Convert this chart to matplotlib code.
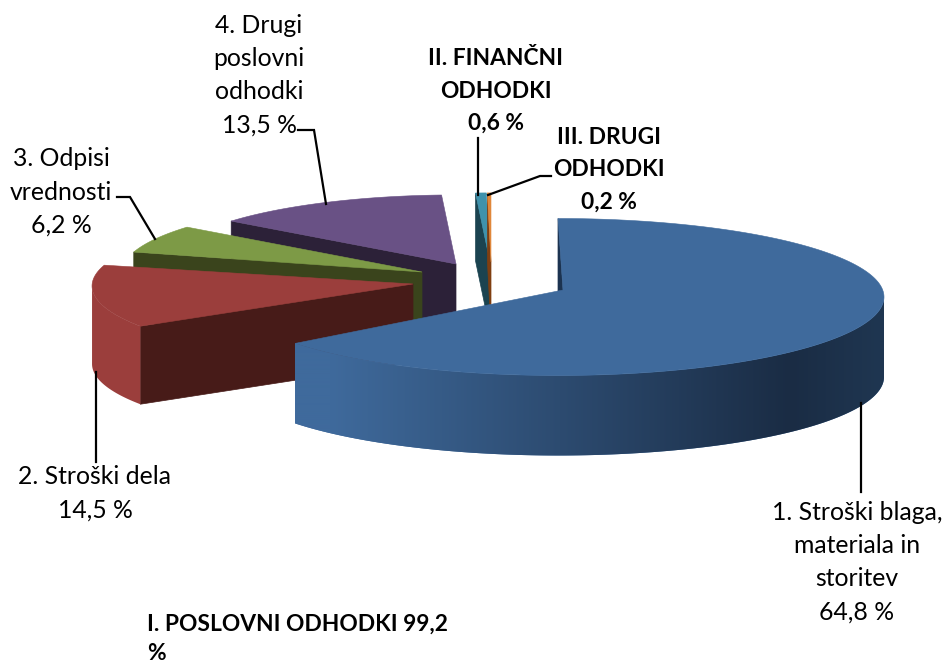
import numpy as np
import matplotlib
matplotlib.use("Agg")
import matplotlib.pyplot as plt
from matplotlib.colors import to_rgb
from matplotlib.patches import Polygon

plt.rcParams['font.family'] = ['Lato', 'DejaVu Sans']

# shares in %, clockwise from 12 o'clock
names = ["1. Stroški blaga,\nmateriala in\nstoritev", "2. Stroški dela", "3. Odpisi\nvrednosti",
         "4. Drugi\nposlovni\nodhodki", "II. FINANČNI\nODHODKI", "III. DRUGI\nODHODKI"]
shares = [64.8, 14.5, 6.2, 13.5, 0.6, 0.2]
total_name = "I. POSLOVNI ODHODKI 99,2\n%"

# look of each slice
top_colors = ["#3f6a9c", "#9b3e3c", "#7d9a46", "#695185", "#3f92ac", "#e0873a"]
wall_colors = ["#1c3350", "#471b18", "#3a441c", "#2c2138", "#1b4350", "#7f3e10"]
apex_x = [563, 413, 422, 456, 490, 491]
apex_y = [290, 284, 272, 264, 262, 262]
center_x = [558, 405, 422, 456, 490, 491]
center_y = [297, 286, 272, 264, 262, 262]
scale = [1.0, 0.96, 0.92, 0.88, 0.88, 0.88]
start_shift = [0, 4, 0, 0, 0, 0]
depth = [80, 78, 70, 70, 68, 68]
RX, RY = 326, 78.5

fig = plt.figure(figsize=(9.44, 6.63), dpi=100)
ax = fig.add_axes([0, 0, 1, 1])


def rim_xy(i, deg):
    a = np.radians(deg)
    return (center_x[i] + RX * scale[i] * np.sin(a),
            center_y[i] - RY * scale[i] * np.cos(a))


def blend(c1, c2, t):
    c1, c2 = np.array(to_rgb(c1)), np.array(to_rgb(c2))
    return c1 + (c2 - c1) * t


def blue_shade(x):
    if x < 790:
        return blend("#3f6a9c", "#1a2c44", np.clip((x - 330) / 460, 0, 1))
    return blend("#1a2c44", "#1f3651", np.clip((x - 790) / 90, 0, 1))


def draw_slice(i, start, end, zt):
    d = depth[i]
    px, py = apex_x[i], apex_y[i]
    # inner wall along the start edge
    sx, sy = rim_xy(i, start)
    ax.add_patch(Polygon([(sx, sy), (px, py), (px, py + d), (sx, sy + d)],
                         fc=wall_colors[i], ec=wall_colors[i], lw=0.5, zorder=zt))
    # outer rim, only the part facing us
    lo, hi = max(start, 90), min(end, 270)
    if hi > lo:
        degs = np.linspace(lo, hi, 200)
        upper = [rim_xy(i, t) for t in degs]
        lower = [(x, y + d) for x, y in upper[::-1]]
        rim = Polygon(upper + lower, fc=top_colors[i], ec='none', zorder=zt)
        ax.add_patch(rim)
        if i == 0:
            xs = np.arange(280, 900)
            grad = np.array([[blue_shade(x) for x in xs]])
            im = ax.imshow(grad, extent=[280, 900, 480, 200], aspect='auto', zorder=zt,
                           interpolation='bilinear')
            im.set_clip_path(rim)
    # top face
    degs = np.linspace(start, end, 200)
    pts = [(px, py)] + [rim_xy(i, t) for t in degs]
    ax.add_patch(Polygon(pts, fc=top_colors[i], ec=top_colors[i], lw=0.4, zorder=zt + 0.5))


edges = np.cumsum([0] + shares) / sum(shares) * 360
order = [3, 2, 1, 4, 5, 0]
for z, i in enumerate(order):
    draw_slice(i, edges[i] + start_shift[i], edges[i + 1], 10 + z)

ax.set_xlim(0, 944)
ax.set_ylim(663, 0)
ax.axis('off')


def pct(v):
    return f"{v:.1f}".replace(".", ",") + " %"


# leader lines
leaders = [
    ([861, 861], [403, 492]),
    ([96, 96], [372, 462]),
    ([117, 130, 155], [197, 197, 239]),
    ([298, 314, 326], [130, 130, 204]),
    ([478, 478], [138, 195]),
    ([488, 540, 551], [195, 176, 176]),
]
for lx, ly in leaders:
    ax.plot(lx, ly, color="black", lw=1.6, zorder=30, solid_joinstyle='miter')

# data labels
label_x = [857, 95, 61, 259, 496, 609]
label_y = [562, 493, 192, 75, 91, 170]
for i in range(len(shares)):
    bold = i >= 4
    ax.text(label_x[i], label_y[i], names[i] + "\n" + pct(shares[i]), ha='center', va='center',
            fontsize=16.4 if bold else 17.8, fontweight='bold' if bold else 'normal', color="black",
            linespacing=1.66 if bold else 1.54, zorder=40)

ax.text(147, 639, total_name, ha='left', va='center', fontsize=16.4, fontweight='bold',
        color="black", linespacing=1.45, zorder=40)

fig.savefig("out.png", dpi=100)
